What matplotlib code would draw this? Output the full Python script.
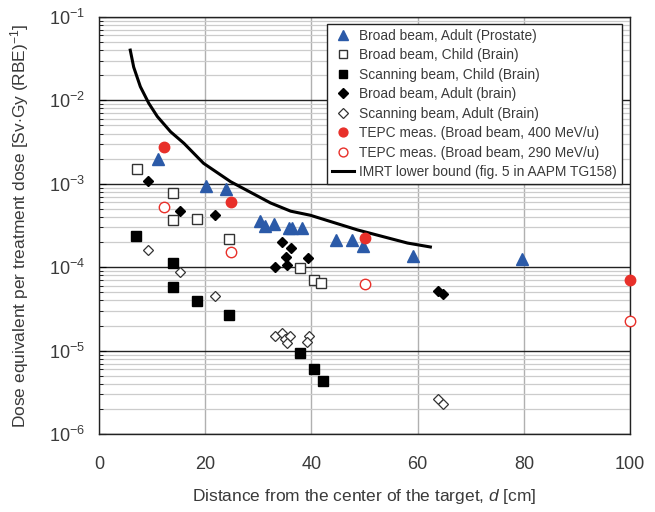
import math
import matplotlib
matplotlib.use("Agg")
import matplotlib.pyplot as plt
from matplotlib.ticker import LogLocator, FixedLocator, FuncFormatter

plt.rcParams['font.family'] = ['Liberation Sans', 'DejaVu Sans']
plt.rcParams['mathtext.fontset'] = 'custom'
plt.rcParams['mathtext.rm'] = 'Liberation Sans'
plt.rcParams['mathtext.it'] = 'Liberation Sans:italic'

# Broad beam, Adult (Prostate)
prostate_x = [11.2, 20.2, 23.9, 30.4, 31.2, 32.9, 35.7, 36.3, 38.2, 44.7, 47.6, 49.8, 59.2, 79.6]
prostate_y = [2.0e-3, 9.4e-4, 8.7e-4, 3.6e-4, 3.1e-4, 3.3e-4, 2.95e-4, 2.95e-4, 2.95e-4,
              2.1e-4, 2.1e-4, 1.8e-4, 1.36e-4, 1.25e-4]

# Broad beam, Child (Brain)
bchild_x = [7.1, 14.0, 13.9, 18.4, 24.4, 37.9, 40.4, 41.9]
bchild_y = [1.5e-3, 7.8e-4, 3.7e-4, 3.8e-4, 2.18e-4, 9.8e-5, 7.0e-5, 6.5e-5]

# Scanning beam, Child (Brain)
schild_x = [6.9, 14.0, 14.0, 18.5, 24.4, 37.9, 40.4, 42.1]
schild_y = [2.37e-4, 1.12e-4, 5.8e-5, 3.9e-5, 2.67e-5, 9.4e-6, 6.0e-6, 4.3e-6]

# Broad beam, Adult (brain)
badult_x = [9.3, 15.2, 21.8, 34.4, 36.1, 35.3, 39.3, 33.1, 35.5, 63.9, 64.7]
badult_y = [1.08e-3, 4.7e-4, 4.2e-4, 2.0e-4, 1.7e-4, 1.33e-4, 1.29e-4, 1.0e-4, 1.06e-4, 5.2e-5, 4.8e-5]

# Scanning beam, Adult (Brain)
sadult_x = [9.3, 15.2, 21.8, 33.1, 34.4, 35.1, 35.9, 35.5, 39.5, 39.2, 63.9, 64.7]
sadult_y = [1.6e-4, 8.8e-5, 4.5e-5, 1.5e-5, 1.62e-5, 1.38e-5, 1.5e-5, 1.23e-5, 1.5e-5, 1.27e-5,
            2.63e-6, 2.29e-6]

# TEPC meas.
tepc400_x = [12.3, 24.9, 50.0, 100.0]
tepc400_y = [2.76e-3, 6.05e-4, 2.24e-4, 7.0e-5]
tepc290_x = [12.3, 24.9, 50.0, 100.0]
tepc290_y = [5.3e-4, 1.52e-4, 6.3e-5, 2.26e-5]

# IMRT lower bound
imrt_x = [5.9, 6.55, 7.8, 9.4, 11.0, 13.5, 16.0, 19.7, 24.8, 32.3, 36.1, 39.8, 48.7, 58.1, 62.4]
imrt_y = [4.0e-2, 2.5e-2, 1.46e-2, 9.2e-3, 6.4e-3, 4.2e-3, 3.06e-3, 1.76e-3, 1.06e-3, 5.9e-4,
          4.7e-4, 4.2e-4, 2.8e-4, 1.95e-4, 1.75e-4]

fig = plt.figure(figsize=(6.55, 5.12), dpi=100)
ax = fig.add_axes([0.151, 0.152, 0.811, 0.815])

blue = '#2b5aa8'
red = '#e8302a'
ax.plot(prostate_x, prostate_y, '^', color=blue, ms=8, ls='none', label='Broad beam, Adult (Prostate)', zorder=4)
ax.plot(bchild_x, bchild_y, 's', mfc='white', mec='#333333', mew=1.0, ms=7.5, ls='none', label='Broad beam, Child (Brain)', zorder=4)
ax.plot(schild_x, schild_y, 's', color='black', ms=7.5, ls='none', label='Scanning beam, Child (Brain)', zorder=4)
ax.plot(badult_x, badult_y, 'D', color='black', ms=5.5, ls='none', label='Broad beam, Adult (brain)', zorder=4)
ax.plot(sadult_x, sadult_y, 'D', mfc='white', mec='#333333', mew=0.9, ms=5.5, ls='none', label='Scanning beam, Adult (Brain)', zorder=4)
ax.plot(tepc400_x, tepc400_y, 'o', color=red, ms=7.5, ls='none', label='TEPC meas. (Broad beam, 400 MeV/u)', zorder=5, clip_on=False)
ax.plot(tepc290_x, tepc290_y, 'o', mfc='white', mec=red, mew=1.0, ms=7.5, ls='none', label='TEPC meas. (Broad beam, 290 MeV/u)', zorder=5, clip_on=False)
ax.plot(imrt_x, imrt_y, '-', color='black', lw=2.2, label='IMRT lower bound (fig. 5 in AAPM TG158)', zorder=3)

ax.set_yscale('log')
ax.set_xlim(0, 100)
ax.set_ylim(1e-6, 1e-1)

ax.yaxis.set_major_locator(LogLocator(base=10, numticks=10))
ax.yaxis.set_minor_locator(LogLocator(base=10, subs=range(2, 10), numticks=20))
ax.yaxis.set_major_formatter(FuncFormatter(lambda v, p: r'$10^{%d}$' % round(math.log10(v))))
ax.xaxis.set_major_locator(FixedLocator([0, 20, 40, 60, 80, 100]))

ax.grid(which='major', axis='y', color='#222222', lw=1.0)
ax.grid(which='minor', axis='y', color='#cccccc', lw=0.9)
ax.grid(which='major', axis='x', color='#b0b0b0', lw=1.0)
ax.set_axisbelow(True)

txt = '#3a3a3a'
ax.tick_params(axis='x', length=0, pad=16, labelsize=13, labelcolor=txt)
ax.tick_params(axis='y', which='major', direction='in', length=5, pad=10, labelsize=13, labelcolor=txt)
ax.tick_params(axis='y', which='minor', direction='in', length=3)
for s in ax.spines.values():
    s.set_color('#222222')
    s.set_linewidth(1.0)

ax.set_xlabel('Distance from the center of the target, $d$ [cm]', fontsize=12.5, color=txt, labelpad=10)
ax.set_ylabel('Dose equivalent per treatment dose [Sv$\\cdot$Gy (RBE)$^{-1}$]', fontsize=12.5, color=txt, labelpad=13)

leg = ax.legend(loc='upper right', bbox_to_anchor=(0.99, 0.99), fontsize=9.9, frameon=True, fancybox=False,
                edgecolor='#222222', framealpha=1, borderpad=0.35, labelspacing=0.4, handlelength=1.6,
                handletextpad=0.4, borderaxespad=0.2, markerscale=0.85)
leg.get_frame().set_linewidth(1.0)
for t in leg.get_texts():
    t.set_color(txt)

fig.savefig('out.png', dpi=100)
